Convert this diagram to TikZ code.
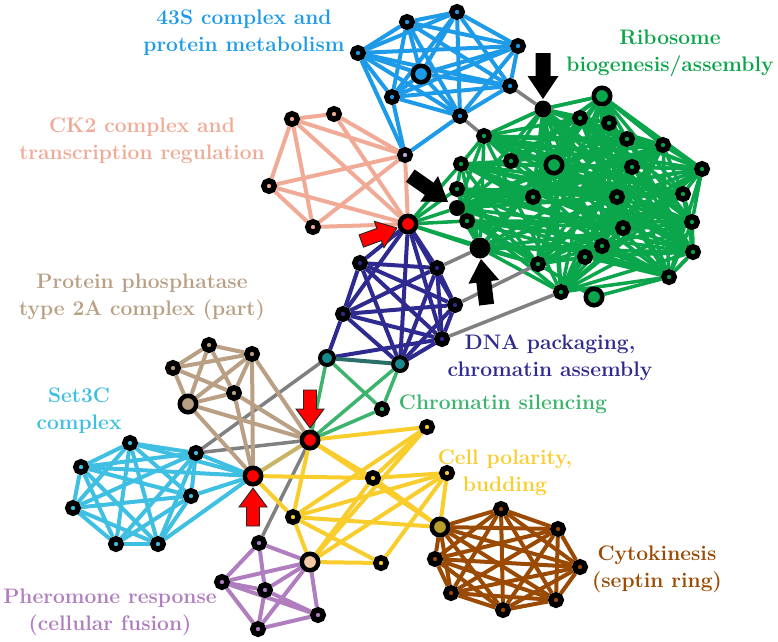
\documentclass[tikz,border=0pt]{standalone}
\usetikzlibrary{calc}
\pgfdeclarelayer{back}
\pgfdeclarelayer{bg}
\pgfsetlayers{back,bg,main}
\definecolor{cblue}{HTML}{1E9BE8}
\definecolor{cgreen}{HTML}{0BA54B}
\definecolor{csalmon}{HTML}{F0AA96}
\definecolor{clilac}{HTML}{C9A3E6}
\definecolor{cnavy}{HTML}{2E2A8F}
\definecolor{cteal}{HTML}{178A8C}
\definecolor{ctealedge}{HTML}{2B6F6A}
\definecolor{ccs}{HTML}{3DB46E}
\definecolor{ctan}{HTML}{B9A085}
\definecolor{ccyan}{HTML}{3FC0E2}
\definecolor{cyellow}{HTML}{F8CD2C}
\definecolor{colive}{HTML}{B89E2A}
\definecolor{cpeach}{HTML}{F6C9A6}
\definecolor{cpurple}{HTML}{B07DBF}
\definecolor{cbrown}{HTML}{9A4A02}
\definecolor{cgray}{HTML}{808080}
\definecolor{ckhaki}{HTML}{C8B464}
\tikzset{
  nd/.style={circle, draw=black, line width=5.5pt, minimum size=10.5pt, inner sep=0pt, fill=#1},
  bignd/.style={circle, draw=black, line width=4.5pt, minimum size=16.5pt, inner sep=0pt, fill=#1},
  midnd/.style={circle, draw=black, line width=4pt, minimum size=14pt, inner sep=0pt, fill=#1},
  blknd/.style={circle, fill=black, minimum size=#1, inner sep=0pt},
  ed/.style={line width=4pt, draw=#1},
  gred/.style={line width=3.5pt, draw=cgreen},
  gyed/.style={line width=3.5pt, draw=cgray},
  lbl/.style={align=center, font=\fontsize{21}{27}\selectfont\bfseries, text=#1, inner sep=0pt},
  blkarrow/.pic={\path[pic actions] (-46,-7.5) -- (-23,-7.5) -- (-23,-15.5) -- (0,0) -- (-23,15.5) -- (-23,7.5) -- (-46,7.5) -- cycle;},
  redarrow/.pic={\path[pic actions] (-38,-6.5) -- (-19,-6.5) -- (-19,-14) -- (0,0) -- (-19,14) -- (-19,6.5) -- (-38,6.5) -- cycle;}
}
\begin{document}
\begin{tikzpicture}[x=1pt,y=-1pt]
\useasboundingbox (0,0) rectangle (778,641);
\begin{pgfonlayer}{back}
\fill[white] (0,0) rectangle (778,641);
\end{pgfonlayer}
% ---- 43S (blue)
\node[nd=cblue] (b1) at (407,22) {};
\node[nd=cblue] (b2) at (457,12) {};
\node[nd=cblue] (b3) at (358,53) {};
\node[nd=cblue] (b4) at (518,46) {};
\node[bignd=cblue] (b5) at (421,74) {};
\node[nd=cblue] (b6) at (392,97) {};
\node[nd=cblue] (b7) at (510,86) {};
\node[nd=cblue] (b8) at (460,116) {};
\node[nd=clilac] (lil) at (405,155) {};
% ---- Ribosome (green)
\node[blknd=17pt] (g1) at (543,109) {};
\node[bignd=cgreen] (g2) at (602,96) {};
\node[nd=cgreen] (g3) at (580,118) {};
\node[nd=cgreen] (g4) at (609,123) {};
\node[nd=cgreen] (g5) at (484,136) {};
\node[nd=cgreen] (g6) at (627,139) {};
\node[nd=cgreen] (g7) at (663,145) {};
\node[nd=cgreen] (g8) at (461,164) {};
\node[nd=cgreen] (g9) at (511,161) {};
\node[bignd=cgreen] (g10) at (554,165) {};
\node[nd=cgreen] (g11) at (632,167) {};
\node[nd=cgreen] (g12) at (702,169) {};
\node[nd=cgreen] (g13) at (457,189) {};
\node[nd=cgreen] (g14) at (533,197) {};
\node[nd=cgreen] (g15) at (617,197) {};
\node[nd=cgreen] (g16) at (683,194) {};
\node[blknd=16pt] (g17) at (457,208) {};
\node[nd=cgreen] (g18) at (467,221) {};
\node[nd=cgreen] (g19) at (623,228) {};
\node[nd=cgreen] (g20) at (692,222) {};
\node[blknd=21pt] (g21) at (480,248) {};
\node[nd=cgreen] (g22) at (602,246) {};
\node[nd=cgreen] (g23) at (585,257) {};
\node[nd=cgreen] (g24) at (538,264) {};
\node[nd=cgreen] (g25) at (693,252) {};
\node[nd=cgreen] (g26) at (669,277) {};
\node[nd=cgreen] (g27) at (561,292) {};
\node[bignd=cgreen] (g28) at (594,297) {};
% ---- CK2 (salmon)
\node[nd=csalmon] (c1) at (292,119) {};
\node[nd=csalmon] (c2) at (334,114) {};
\node[nd=csalmon] (c3) at (269,186) {};
\node[nd=csalmon] (c4) at (313,227) {};
\node[bignd=red] (r1) at (408,224) {};
% ---- DNA packaging (navy)
\node[nd=cnavy] (d1) at (360,263) {};
\node[nd=cnavy] (d2) at (437,268) {};
\node[nd=cnavy] (d3) at (455,305) {};
\node[nd=cnavy] (d4) at (343,314) {};
\node[nd=cnavy] (d5) at (442,339) {};
\node[midnd=cteal] (t1) at (327,358) {};
\node[midnd=cteal] (t2) at (400,364) {};
\node[nd=ccs] (cs1) at (382,409) {};
% ---- PP2A (tan)
\node[nd=ctan] (pp1) at (209,345) {};
\node[nd=ctan] (pp2) at (252,354) {};
\node[nd=ctan] (pp3) at (173,368) {};
\node[nd=ctan] (pp4) at (234,393) {};
\node[bignd=ctan] (pp5) at (188,404) {};
\node[bignd=red] (r2) at (310,440) {};
\node[bignd=red] (r3) at (253,476) {};
% ---- Set3C (cyan)
\node[nd=ccyan] (s1) at (196,453) {};
\node[nd=ccyan] (s2) at (130,443) {};
\node[nd=ccyan] (s3) at (81,467) {};
\node[nd=ccyan] (s4) at (191,496) {};
\node[nd=ccyan] (s5) at (73,508) {};
\node[nd=ccyan] (s6) at (116,544) {};
\node[nd=ccyan] (s7) at (158,544) {};
% ---- Cell polarity (yellow)
\node[nd=cyellow] (y1) at (427,427) {};
\node[nd=cyellow] (y2) at (373,478) {};
\node[nd=cyellow] (y3) at (447,473) {};
\node[nd=cyellow] (y4) at (293,517) {};
\node[bignd=colive] (y5) at (440,527) {};
\node[bignd=cpeach] (y6) at (310,562) {};
\node[nd=cyellow] (y7) at (381,563) {};
% ---- Pheromone (purple)
\node[nd=cpurple] (p1) at (259,543) {};
\node[nd=cpurple] (p2) at (222,582) {};
\node[nd=cpurple] (p3) at (265,590) {};
\node[nd=cpurple] (p4) at (318,615) {};
\node[nd=cpurple] (p5) at (258,629) {};
% ---- Cytokinesis (brown)
\node[nd=cbrown] (k1) at (501,509) {};
\node[nd=cbrown] (k2) at (558,529) {};
\node[nd=cbrown] (k3) at (435,559) {};
\node[nd=cbrown] (k4) at (580,567) {};
\node[nd=cbrown] (k5) at (451,593) {};
\node[nd=cbrown] (k6) at (503,610) {};
\node[nd=cbrown] (k7) at (556,600) {};

\begin{pgfonlayer}{bg}
% green dense
\foreach \i in {1,...,27}{
  \pgfmathtruncatemacro\js{\i+1}
  \foreach \j in {\js,...,28}{
    \pgfmathtruncatemacro\kk{mod(\i*7+\j*11+\i*\j,5)}
    \ifnum\kk<3 \draw[gred] (g\i) -- (g\j); \fi
  }
}
\foreach \a/\b in {g1/g2,g2/g7,g7/g12,g12/g20,g20/g25,g25/g26,g26/g28,g28/g24,g24/g21,g21/g18,g18/g13,g13/g8,g8/g5,g5/g1,r1/g8,r1/g13,r1/g17,r1/g18,r1/g21,r1/g24}
  \draw[gred] (\a) -- (\b);
% gray links
\foreach \a/\b in {b7/g1,b8/g5,g21/d2,d3/g24,d5/g27,t1/s1,s1/r2,r2/p1}
  \draw[gyed] (\a) -- (\b);
\draw[ed=ckhaki] (r2) -- (r3);
% blue
\foreach \a/\b in {b1/b2,b1/b3,b1/b4,b1/b5,b1/b6,b1/b7,b1/b8,b2/b3,b2/b4,b2/b5,b2/b6,b2/b7,b2/b8,b3/b4,b3/b5,b3/b6,b3/b7,b3/b8,b4/b5,b4/b6,b4/b7,b4/b8,b5/b6,b5/b7,b5/b8,b6/b7,b6/b8,b7/b8,b3/lil,b6/lil,b8/lil}
  \draw[ed=cblue] (\a) -- (\b);
% salmon
\foreach \a/\b in {c1/c2,c1/c3,c1/c4,c1/lil,c1/r1,c2/lil,c2/r1,c3/lil,c3/r1,c3/c4,c4/lil,c4/r1,lil/r1}
  \draw[ed=csalmon] (\a) -- (\b);
% navy
\foreach \a/\b in {r1/d1,r1/d2,r1/d3,r1/d4,r1/d5,r1/t2,d1/d2,d1/d3,d1/d4,d1/d5,d1/t2,d2/d3,d2/d4,d2/d5,d2/t2,d3/d4,d3/d5,d3/t2,d4/d5,d4/t2,d5/t2,t1/d4,t1/d5}
  \draw[ed=cnavy] (\a) -- (\b);
\draw[ed=ctealedge] (t1) -- (t2);
% chromatin silencing
\foreach \a/\b in {t1/cs1,t2/cs1,r2/t1,r2/t2,r2/cs1}
  \draw[line width=3.5pt, draw=ccs] (\a) -- (\b);
% tan
\foreach \a/\b in {pp1/pp2,pp1/pp3,pp1/pp4,pp1/pp5,pp2/pp3,pp2/pp4,pp2/pp5,pp2/r2,pp2/r3,pp3/pp4,pp3/pp5,pp4/pp5,pp4/r2,pp4/r3,pp5/r2,pp5/r3}
  \draw[ed=ctan] (\a) -- (\b);
% cyan
\foreach \a/\b in {s1/s2,s1/s3,s1/s4,s1/s5,s1/s6,s1/s7,s2/s3,s2/s4,s2/s5,s2/s6,s2/s7,s3/s4,s3/s5,s3/s6,s3/s7,s4/s5,s4/s6,s4/s7,s5/s6,s5/s7,s6/s7,r3/s1,r3/s2,r3/s3,r3/s4,r3/s7}
  \draw[ed=ccyan] (\a) -- (\b);
% yellow
\foreach \a/\b in {r2/y1,r2/y2,r2/y4,r2/y5,r3/y2,r3/y4,y1/y4,y1/y6,y1/y2,y2/y3,y2/y6,y3/y4,y3/y6,y3/y7,y3/y5,y4/y5,y4/y6,y4/y7,y6/y7,y2/y5}
  \draw[ed=cyellow] (\a) -- (\b);
% purple
\foreach \a/\b in {p1/p2,p1/p3,p1/y6,p2/p3,p2/y6,p2/p4,p2/p5,p3/y6,p3/p4,p3/p5,y6/p4,y6/p5,p4/p5}
  \draw[ed=cpurple] (\a) -- (\b);
% brown
\foreach \a/\b in {y5/k1,y5/k2,y5/k3,y5/k4,y5/k5,y5/k6,y5/k7,k1/k2,k1/k3,k1/k4,k1/k5,k1/k6,k1/k7,k2/k3,k2/k4,k2/k5,k2/k6,k2/k7,k3/k4,k3/k5,k3/k6,k3/k7,k4/k5,k4/k6,k4/k7,k5/k6,k5/k7,k6/k7}
  \draw[ed=cbrown] (\a) -- (\b);
\end{pgfonlayer}

% arrows
\pic[rotate=-90, fill=black] at ($(g1)+(0,-10)$) {blkarrow};
\pic[rotate=-35, fill=black] at ($(g17)+(-9,-6)$) {blkarrow};
\pic[rotate=97, fill=black] at ($(g21)+(1,11)$) {blkarrow};
\pic[rotate=20, fill=red, draw=black!85, line width=0.9pt] at ($(r1)+(-11,4)$) {redarrow};
\pic[rotate=-90, fill=red, draw=black!85, line width=0.9pt] at ($(r2)+(0,-12)$) {redarrow};
\pic[rotate=90, fill=red, draw=black!85, line width=0.9pt] at ($(r3)+(0,12)$) {redarrow};

% labels
\node[lbl=cblue] (l43) at (244,33) {43S complex and\\protein metabolism};
\node[lbl=cgreen] (lrib) at (670,53) {Ribosome\\biogenesis/assembly};
\node[lbl=csalmon] (lck) at (142,141) {CK2 complex and\\transcription regulation};
\node[lbl=ctan] (lpp) at (142,297) {Protein phosphatase\\type 2A complex (part)};
\node[lbl=ccyan] (lset) at (79,411) {Set3C\\complex};
\node[lbl=cnavy] (ldna) at (550,358) {DNA packaging,\\chromatin assembly};
\node[lbl=ccs] (lcs) at (503,404) {Chromatin silencing};
\node[lbl=cyellow] (lcell) at (505,473) {Cell polarity,\\budding};
\node[lbl=cbrown] (lcyt) at (657,569) {Cytokinesis\\(septin ring)};
\node[lbl=cpurple] (lphe) at (110,612) {Pheromone response\\(cellular fusion)};
\end{tikzpicture}
\end{document}
